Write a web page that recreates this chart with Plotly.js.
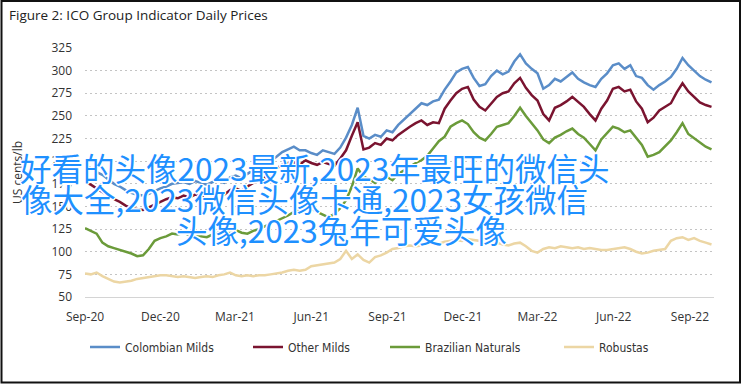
<!DOCTYPE html>
<html>
<head>
<meta charset="utf-8">
<script src="https://cdn.plot.ly/plotly-3.0.1.min.js"></script>
<style>
html,body{margin:0;padding:0;background:#fff;}
#chart{width:748px;height:387px;}
</style>
</head>
<body>
<div id="chart"></div>
<script>
// Weekly observations starting 2020-09-01
const seriesNames = ['Colombian Milds', 'Other Milds', 'Brazilian Naturals', 'Robustas'];
const seriesColors = ['#5a8dc8', '#7a1430', '#6b9b3a', '#ecd6a4'];

const colombianMilds = [196,192,188,185,180,175,172,168,165,163,162,164,167,170,172,175,176,177,175,178,176,174,177,178,176,
182,184,181,186,190,192,196,200,205,210,213,216,212,212,209,207,212,210,208,215,226,240,259,228,225,229,227,234,232,240,
246,252,258,264,262,266,268,279,288,298,302,304,292,283,285,294,300,296,299,310,318,308,302,297,280,284,291,288,293,298,
291,287,284,282,291,297,306,308,302,306,294,292,284,279,284,288,293,302,314,306,300,294,290,287];

const otherMilds = [177,174,170,166,162,158,155,151,148,147,146,149,152,155,158,160,159,162,160,163,161,159,162,165,163,
168,170,167,172,176,178,182,186,192,196,198,199,196,201,198,196,199,197,195,203,212,228,243,213,215,220,218,225,223,229,
234,238,242,245,240,243,242,258,267,275,280,282,268,260,256,264,271,275,277,286,292,281,273,267,252,245,259,262,266,271,
265,260,252,245,258,267,280,282,277,279,266,258,243,248,256,260,264,276,286,277,271,265,262,260];

const brazilianNaturals = [126,123,120,110,106,104,102,100,98,95,96,103,112,115,117,120,119,121,118,120,117,116,119,121,119,
122,124,121,120,123,125,128,131,134,137,140,144,146,150,148,144,141,138,142,148,157,172,192,183,180,176,181,183,179,186,
190,194,198,201,206,214,222,227,238,242,245,241,232,226,223,230,238,240,242,250,259,250,242,234,224,220,226,229,233,236,
230,226,219,212,224,231,238,236,232,234,226,218,205,207,210,216,223,232,242,230,225,220,216,213];

const robustas = [76,75,77,73,70,67,66,67,68,70,71,72,73,74,74,73,72,73,72,71,72,73,72,74,75,
77,74,73,74,73,74,74,75,76,77,79,80,79,80,84,85,86,87,88,92,101,92,97,91,88,94,96,99,103,104,
106,107,106,107,108,110,109,111,112,113,112,114,113,112,114,113,110,108,107,109,110,106,101,99,103,105,104,106,105,104,
105,103,104,103,102,102,103,104,105,103,100,98,99,101,102,103,112,115,116,113,115,112,110,108];

const tickValues = [50,75,100,125,150,175,200,225,250,275,300,325];
const overlayLines = ['好看的头像2023最新,2023年最旺的微信头', '像大全,2023微信头像卡通,2023女孩微信', '头像,2023兔年可爱头像'];

function weeklyDates(n) {
  const out = [];
  const t0 = Date.UTC(2020, 8, 1);
  for (let i = 0; i < n; i++) {
    const d = new Date(t0 + i * 7 * 86400000);
    out.push(d.toISOString().slice(0, 10));
  }
  return out;
}
const dates = weeklyDates(colombianMilds.length);
const allSeries = [colombianMilds, otherMilds, brazilianNaturals, robustas];
const legendWidths = [118, 92, 129, 56];

const traces = allSeries.map((vals, i) => ({
  type: 'scatter', mode: 'lines', x: dates, y: vals, name: seriesNames[i],
  line: {color: seriesColors[i], width: 2.5}, hoverinfo: 'skip', legendwidth: legendWidths[i]
}));

// pixel helpers for paper coordinates (plot area 85..714 x 48..297)
const L = 85, R = 714, T = 48, B = 297;
const px = x => (x - L) / (R - L);
const py = y => (B - y) / (B - T);

const cjkFont = {family: 'Noto Sans CJK SC, sans-serif', size: 31.5, color: '#1e90ff',
  shadow: '-1px -1px 0 #fff, 1px -1px 0 #fff, -1px 1px 0 #fff, 1px 1px 0 #fff, 0 -1.5px 0 #fff, 0 1.5px 0 #fff, -1.5px 0 0 #fff, 1.5px 0 0 #fff'};
const overlayPos = [[18, 167], [19, 198], [174, 229]];
const annotations = overlayLines.map((t, i) => ({
  text: t, xref: 'paper', yref: 'paper', x: px(overlayPos[i][0]), y: py(overlayPos[i][1]),
  xanchor: 'left', yanchor: 'middle', showarrow: false, font: cjkFont
}));

const shapes = [
  {type: 'rect', xref: 'paper', yref: 'paper', x0: px(1.5), x1: px(740), y0: py(1), y1: py(382.5),
   line: {color: '#111', width: 2}, fillcolor: 'rgba(0,0,0,0)'}
];

const layout = {
  width: 748, height: 387, autosize: false,
  margin: {l: L, r: 748 - R, t: T, b: 387 - B, pad: 0},
  paper_bgcolor: '#fff', plot_bgcolor: '#fff',
  title: {text: 'Figure 2: ICO Group Indicator Daily Prices', x: 9 / 748, xanchor: 'left',
    y: 1 - 15 / 387, yanchor: 'middle', xref: 'container', yref: 'container',
    font: {family: 'Open Sans, sans-serif', size: 13.5, color: '#222'}},
  showlegend: true,
  legend: {orientation: 'h', x: px(85), xanchor: 'left', y: py(347), yanchor: 'middle',
    font: {family: 'Liberation Sans Narrow, DejaVu Sans Condensed, sans-serif', size: 12, color: '#333'},
    itemwidth: 30, bgcolor: 'rgba(0,0,0,0)'},
  xaxis: {type: 'date', range: ['2020-09-01', '2022-09-30'], tick0: '2020-09-01', dtick: 'M3',
    tickformat: '%b-%y', showgrid: false, zeroline: false, showline: true, linecolor: '#d4d4d4', linewidth: 1,
    ticks: '', ticklabelstandoff: 9, tickfont: {family: 'Open Sans, sans-serif', size: 12, color: '#333'}},
  yaxis: {range: [50, 325], tickvals: tickValues, showgrid: true, gridcolor: '#c4c4c4', griddash: '2px,3px',
    gridwidth: 1, zeroline: false, showline: false, ticks: '', ticklabelstandoff: 12,
    tickfont: {family: 'Open Sans, sans-serif', size: 12, color: '#333'},
    title: {text: 'US cents/lb', standoff: 26, font: {family: 'Open Sans, sans-serif', size: 12, color: '#333'}}},
  annotations: annotations,
  shapes: shapes
};

Plotly.newPlot('chart', traces, layout, {staticPlot: true, displayModeBar: false});
</script>
</body>
</html>
